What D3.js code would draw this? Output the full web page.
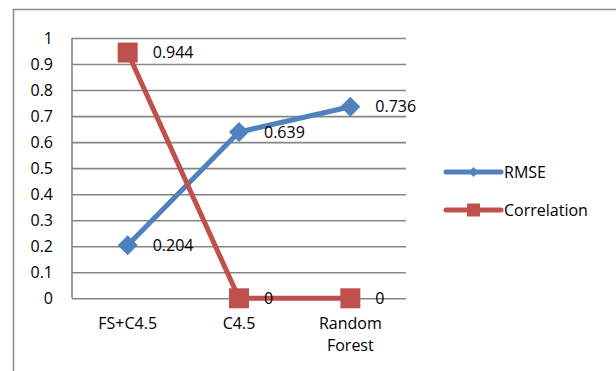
<!DOCTYPE html>
<html>
<head>
<meta charset="utf-8">
<script src="https://cdn.jsdelivr.net/npm/d3@7"></script>
<style>
  html, body { margin: 0; padding: 0; background: #fff; }
  svg { display: block; font-family: "Open Sans", sans-serif; }
</style>
</head>
<body>
<svg id="chart" width="616" height="371"></svg>
<script>
// Model comparison: RMSE and correlation per classifier
const categories = [["FS+C4.5"], ["C4.5"], ["Random", "Forest"]];
const categoryKeys = ["FS+C4.5", "C4.5", "Random Forest"];
const rmseValues = [0.204, 0.639, 0.736];
const correlationValues = [0.944, 0, 0];
const yTicks = [0, 0.1, 0.2, 0.3, 0.4, 0.5, 0.6, 0.7, 0.8, 0.9, 1];
const seriesNames = ["RMSE", "Correlation"];

const series = [
  { name: seriesNames[0], values: rmseValues, color: "#4F81BD", marker: "diamond" },
  { name: seriesNames[1], values: correlationValues, color: "#C0504D", marker: "square" }
];

const svg = d3.select("#chart");
const plot = { left: 72, right: 406, top: 38, bottom: 298.3 };

// outer frame
svg.append("rect")
  .attr("x", 13.5).attr("y", 9.5)
  .attr("width", 700).attr("height", 500)
  .attr("fill", "none").attr("stroke", "#8a8a8a").attr("stroke-width", 1.5);

const x = d3.scaleBand().domain(categoryKeys).range([plot.left, plot.right]);
const y = d3.scaleLinear().domain([0, 1]).range([plot.bottom, plot.top]);
const cx = k => x(k) + x.bandwidth() / 2;

// gridlines + value axis
const yAxis = svg.append("g")
  .attr("transform", `translate(${plot.left},0)`)
  .call(d3.axisLeft(y).tickValues(yTicks).tickFormat(d3.format("~g"))
    .tickSize(-(plot.right - plot.left)).tickPadding(19));
yAxis.select(".domain").remove();
yAxis.selectAll(".tick line").attr("stroke", "#868686").attr("stroke-width", 1.6);
yAxis.selectAll(".tick text")
  .attr("font-size", 16).attr("fill", "#000")
  .attr("font-family", "'Open Sans', sans-serif");

// vertical axis line
svg.append("line")
  .attr("x1", plot.left).attr("x2", plot.left)
  .attr("y1", plot.top).attr("y2", plot.bottom)
  .attr("stroke", "#868686").attr("stroke-width", 1.6);

// category labels
const catG = svg.append("g");
categories.forEach((lines, i) => {
  const t = catG.append("text")
    .attr("x", cx(categoryKeys[i]))
    .attr("y", 329)
    .attr("text-anchor", "middle")
    .attr("font-size", 16).attr("fill", "#000");
  lines.forEach((ln, j) => {
    t.append("tspan").attr("x", cx(categoryKeys[i])).attr("dy", j === 0 ? 0 : 22).text(ln);
  });
});

function markerPath(type, r) {
  if (type === "diamond") return `M0,${-r}L${r},0L0,${r}L${-r},0Z`;
  return `M${-r},${-r}H${r}V${r}H${-r}Z`;
}

const line = d3.line().x((d, i) => cx(categoryKeys[i])).y(d => y(d));

series.forEach(s => {
  const g = svg.append("g");
  g.append("path")
    .attr("d", line(s.values))
    .attr("fill", "none").attr("stroke", s.color).attr("stroke-width", 5)
    .attr("stroke-linejoin", "round");
  g.selectAll(".m").data(s.values).join("path")
    .attr("transform", (d, i) => `translate(${cx(categoryKeys[i])},${y(d)})`)
    .attr("d", markerPath(s.marker, s.marker === "diamond" ? 10 : 10))
    .attr("fill", s.color);
});

// data labels
series.forEach(s => {
  svg.append("g").selectAll("text").data(s.values).join("text")
    .attr("x", (d, i) => cx(categoryKeys[i]) + 25)
    .attr("y", d => y(d))
    .attr("dy", "0.35em")
    .attr("font-size", 16).attr("fill", "#000")
    .text(d => d3.format("~g")(d));
});

// legend
const legend = svg.append("g");
series.forEach((s, i) => {
  const ly = 172 + i * 38;
  legend.append("line")
    .attr("x1", 446).attr("x2", 501).attr("y1", ly).attr("y2", ly)
    .attr("stroke", s.color).attr("stroke-width", 5).attr("stroke-linecap", "round");
  legend.append("path")
    .attr("transform", `translate(473.5,${ly})`)
    .attr("d", markerPath(s.marker, s.marker === "diamond" ? 5 : 6.5))
    .attr("fill", s.color);
  legend.append("text")
    .attr("x", 504).attr("y", ly).attr("dy", "0.35em")
    .attr("font-size", 16).attr("fill", "#000")
    .text(s.name);
});
</script>
</body>
</html>
